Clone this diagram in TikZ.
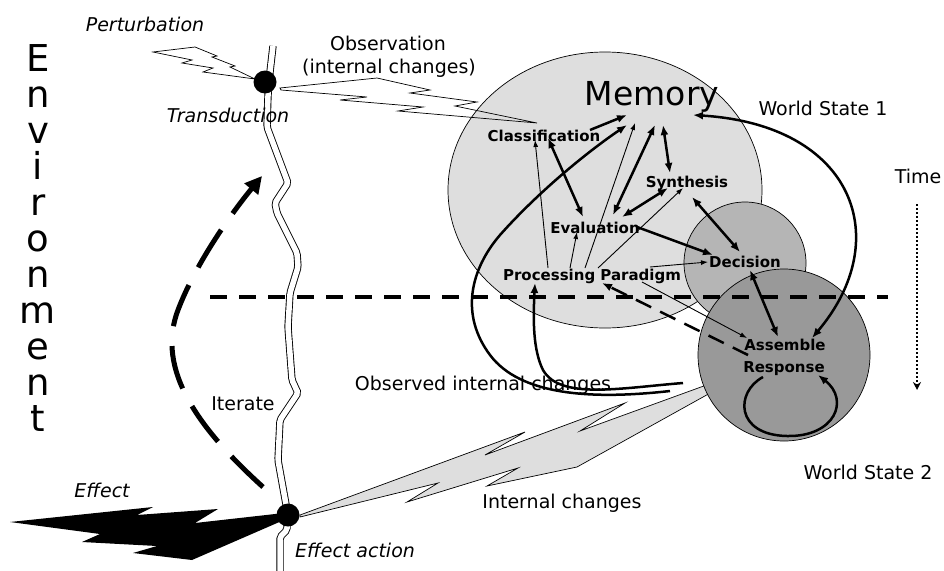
\documentclass[tikz,border=0pt]{standalone}
\usepackage{fontspec}
\setmainfont{DejaVu Sans}
\usetikzlibrary{arrows.meta}
\definecolor{memgray}{gray}{0.87}
\definecolor{decgray}{gray}{0.71}
\definecolor{asmgray}{gray}{0.60}
\begin{document}
\begin{tikzpicture}[x=1pt,y=-1pt,
  lbl/.style={font=\fontsize{19}{22}\selectfont, inner sep=0pt, anchor=base},
  itl/.style={font=\fontsize{19}{22}\selectfont\itshape, inner sep=0pt, anchor=base},
  bld/.style={font=\fontsize{15}{18}\selectfont\bfseries, inner sep=0pt, anchor=base},
  envl/.style={font=\fontsize{37}{40}\selectfont, inner sep=0pt, anchor=base},
  dot/.style={circle, fill=black, inner sep=0pt, minimum size=23pt},
  thickA/.style={line width=2.5pt, -{Latex[length=10pt,width=8pt]}},
  thickAA/.style={line width=2.5pt, {Latex[length=10pt,width=8pt]}-{Latex[length=10pt,width=8pt]}},
  thinA/.style={line width=0.9pt, -{Latex[length=7pt,width=5pt]}},
  bolt/.style={line width=0.7pt, line join=miter},
  axon/.style={line width=0.9pt, double=white, double distance=5.5pt, rounded corners=2pt}
]
\useasboundingbox (0,0) rectangle (944,570);

% internal changes: grey bolt from the effector to the response
\draw[bolt, fill=memgray] (300,515) -- (525,432) -- (485,455) -- (625,403) -- (580,431) -- (712,383)
  -- (712,392) -- (577,467) -- (487,486) -- (518,468) -- (407,502) -- (438,483) -- (300,517) -- cycle;

% memory, decision and response regions
\draw[line width=0.7pt, fill=memgray] (605,190) ellipse [x radius=157pt, y radius=138pt];
\draw[line width=0.7pt, fill=decgray] (745,263) circle [radius=61pt];
\draw[line width=0.7pt, fill=asmgray] (784,355) circle [radius=86pt];

% the sensing/acting fibre
\draw[axon] (273,46) -- (270,72) -- (268,95) -- (267,127) -- (288,183) -- (275,203) -- (277,213)
  -- (297,253) -- (298,267) -- (290,293) -- (288,327) -- (292,380) -- (298,393) -- (280,420)
  -- (278,460) -- (287,510) -- (287,530) -- (280,537) -- (280,572);

% observation bolt (outline only)
\draw[bolt] (280,88) -- (377,78) -- (430,90) -- (410,93) -- (477,102) -- (455,106) -- (537,123)
  -- (398,111) -- (423,107) -- (340,100) -- (367,97) -- (281,90) -- cycle;

% perturbation bolt
\draw[bolt, fill=white] (153,52) -- (195,47) -- (217,56) -- (212,57) -- (235,66) -- (230,67) -- (255,79)
  -- (203,72) -- (213,68) -- (182,63) -- (192,60) -- cycle;

% effect bolt
\fill (10,522) -- (153,507) -- (137,515) -- (218,509) -- (195,523) -- (284,513)
  -- (284,520) -- (192,560) -- (133,553) -- (157,546) -- (82,542) -- (100,534) -- cycle;

% transducer and effector
\node[dot] (tdot) at (265,82) {};
\node[dot] (edot) at (288,515) {};

% boundary between the two world states
\draw[line width=4pt, dash pattern=on 17pt off 12pt] (210,297) -- (888,297);

% Environment, written downwards
\foreach \ch [count=\i] in {E,n,v,i,r,o,n,m,e,n,t}
  \node[envl] (env\i) at (38,{71+36*(\i-1)}) {\ch};

% labels
\node[itl] (pert) at (145,31) {Perturbation};
\node[itl] (trans) at (228,122) {Transduction};
\node[lbl] (obs1) at (388,50) {Observation};
\node[lbl] (obs2) at (389,73) {(internal changes)};
\node[font=\fontsize{33}{36}\selectfont, inner sep=0pt, anchor=base] (mem) at (652,105) {Memory};
\node[lbl] (ws1) at (823,115) {World State 1};
\node[lbl] (time) at (918,183) {Time};
\node[lbl] (ws2) at (868,479) {World State 2};
\node[lbl] (oic) at (483,390) {Observed internal changes};
\node[lbl] (ic) at (562,508) {Internal changes};
\node[lbl] (iter) at (243,410) {Iterate};
\node[itl] (eff) at (102,497) {Effect};
\node[itl] (effa) at (355,557) {Effect action};

\node[bld] (cls) at (544,141) {Classification};
\node[bld] (syn) at (687,187) {Synthesis};
\node[bld] (eva) at (595,233) {Evaluation};
\node[bld] (dec) at (745,267) {Decision};
\node[bld] (pp) at (592,280) {Processing Paradigm};
\node[bld] (asmA) at (785,350) {Assemble};
\node[bld] (asmB) at (784,372) {Response};

% connector end points
\coordinate (clsR) at (590,130);
\coordinate (memA) at (627,115);
\coordinate (memB) at (627,125);
\coordinate (memC) at (635,123);
\coordinate (memD) at (655,125);
\coordinate (memE) at (663,125);
\coordinate (memF) at (693,115);
\coordinate (clsA) at (548,138);
\coordinate (clsB) at (535,140);
\coordinate (evaA) at (583,217);
\coordinate (evaB) at (577,232);
\coordinate (evaC) at (613,215);
\coordinate (evaD) at (622,217);
\coordinate (evaE) at (637,227);
\coordinate (synA) at (670,173);
\coordinate (synB) at (668,188);
\coordinate (synC) at (683,188);
\coordinate (synD) at (692,197);
\coordinate (decA) at (713,255);
\coordinate (decB) at (740,252);
\coordinate (decC) at (708,262);
\coordinate (decD) at (750,270);
\coordinate (ppA) at (548,268);
\coordinate (ppB) at (570,268);
\coordinate (ppC) at (585,268);
\coordinate (ppD) at (598,268);
\coordinate (ppE) at (650,267);
\coordinate (ppF) at (642,282);
\coordinate (ppG) at (602,283);
\coordinate (ppH) at (535,283);
\coordinate (asmN) at (778,337);
\coordinate (asmM) at (812,338);
\coordinate (asmL) at (747,338);
\coordinate (asmW) at (748,355);
\coordinate (loopS) at (763,377);
\coordinate (loopE) at (818,375);
\coordinate (outA) at (670,391);
\coordinate (outB) at (683,383);
\coordinate (itS) at (263,487);
\coordinate (itE) at (262,176);
\coordinate (timeS) at (917,204);
\coordinate (timeE) at (917,390);

% processing arrows
\draw[thickA] (clsR) -- (memA);
\draw[thickAA] (clsA) -- (evaA);
\draw[thinA] (ppA) -- (clsB);
\draw[thinA] (ppB) -- (evaB);
\draw[thinA] (ppC) -- (memC);
\draw[thickAA] (evaC) -- (memD);
\draw[thickAA] (memE) -- (synA);
\draw[thickAA] (evaD) -- (synB);
\draw[thinA] (ppD) -- (synC);
\draw[thickA] (evaE) -- (decA);
\draw[thickAA] (synD) -- (decB);
\draw[thinA] (ppE) -- (decC);
\draw[thickAA] (decD) -- (asmN);
\draw[thinA] (ppF) -- (asmL);
\draw[thickA, dash pattern=on 17pt off 10pt] (asmW) -- (ppG);
\draw[thickAA] (asmM) .. controls (895,240) and (855,125) .. (memF);
\draw[thickA] (loopS) .. controls (735,392) and (735,435) .. (787,436)
  .. controls (835,437) and (850,400) .. (loopE);
\draw[thickA] (outA) .. controls (590,400) and (520,395) .. (490,355)
  .. controls (460,315) and (470,270) .. (500,235)
  .. controls (540,190) and (590,150) .. (memB);
\draw[thickA] (outB) .. controls (620,388) and (560,400) .. (543,370)
  .. controls (533,350) and (533,320) .. (ppH);

% iterate loop
\draw[line width=5pt, dash pattern=on 44pt off 20pt, -{Triangle[length=17pt,width=17pt]}]
  (itS) .. controls (200,430) and (155,370) .. (178,310)
  .. controls (195,265) and (230,215) .. (itE);

% time axis
\draw[line width=2pt, dash pattern=on 2pt off 2pt, -{Stealth[length=8pt,width=8pt]}] (timeS) -- (timeE);
\end{tikzpicture}
\end{document}
